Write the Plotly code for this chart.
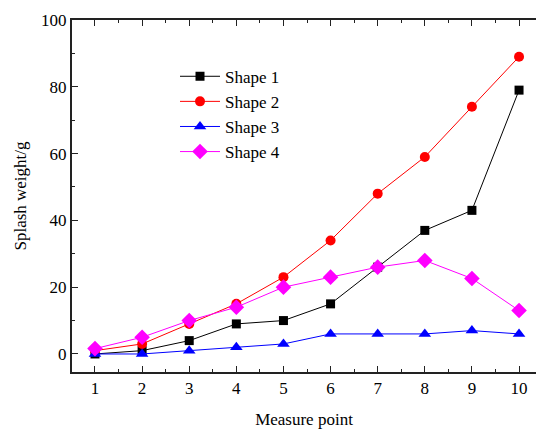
import plotly.graph_objects as go

measure_points = [1, 2, 3, 4, 5, 6, 7, 8, 9, 10]
shape1 = [0, 1, 4, 9, 10, 15, 26, 37, 43, 79]
shape2 = [1, 3, 9, 15, 23, 34, 48, 59, 74, 89]
shape3 = [0, 0, 1, 2, 3, 6, 6, 6, 7, 6]
shape4 = [1.6, 5, 10, 14, 20, 23, 26, 28, 22.6, 13]

series = [
    ("Shape 1", shape1, "black", "square", 9),
    ("Shape 2", shape2, "red", "circle", 10),
    ("Shape 3", shape3, "blue", "triangle-up", 11),
    ("Shape 4", shape4, "magenta", "diamond", 12),
]

fig = go.Figure()
for name, vals, color, sym, sz in series:
    fig.add_trace(go.Scatter(
        x=measure_points, y=vals, name=name, mode="lines+markers",
        line=dict(color=color, width=1),
        marker=dict(symbol=sym, size=sz, color=color),
    ))

font = "Liberation Serif, Times New Roman, serif"
fs = 17
fig.update_layout(
    width=536, height=429,
    margin=dict(l=72, r=0, t=20, b=57),
    plot_bgcolor="white", paper_bgcolor="white",
    font=dict(family=font, size=fs, color="black"),
    showlegend=True,
    legend=dict(x=0.222, y=0.89, xanchor="left", yanchor="top",
                bgcolor="rgba(0,0,0,0)", font=dict(size=fs, family=font),
                tracegroupgap=0, itemwidth=40),
)
fig.update_xaxes(
    range=[0.512, 10.36], tickmode="array", tickvals=measure_points,
    ticks="inside", ticklen=6, tickwidth=1.2, tickcolor="#222",
    minor=dict(ticks="inside", dtick=0.5, ticklen=3, tickwidth=1.2, tickcolor="#222"),
    showline=True, linecolor="#222", linewidth=2, mirror="ticks",
    showgrid=False, zeroline=False,
    title=dict(text="Measure point", font=dict(size=fs, family=font), standoff=16),
    tickfont=dict(size=fs, family=font),
)
fig.update_yaxes(
    range=[-5.4, 100], tickmode="array", tickvals=[0, 20, 40, 60, 80, 100],
    ticks="inside", ticklen=6, tickwidth=1.2, tickcolor="#222",
    minor=dict(ticks="inside", tickvals=[10, 30, 50, 70, 90], ticklen=3, tickwidth=1.2, tickcolor="#222"),
    showline=True, linecolor="#222", linewidth=2,
    showgrid=False, zeroline=False,
    title=dict(text="Splash weight/g", font=dict(size=fs, family=font), standoff=10),
    tickfont=dict(size=fs, family=font),
)

fig.write_html("out.html")
